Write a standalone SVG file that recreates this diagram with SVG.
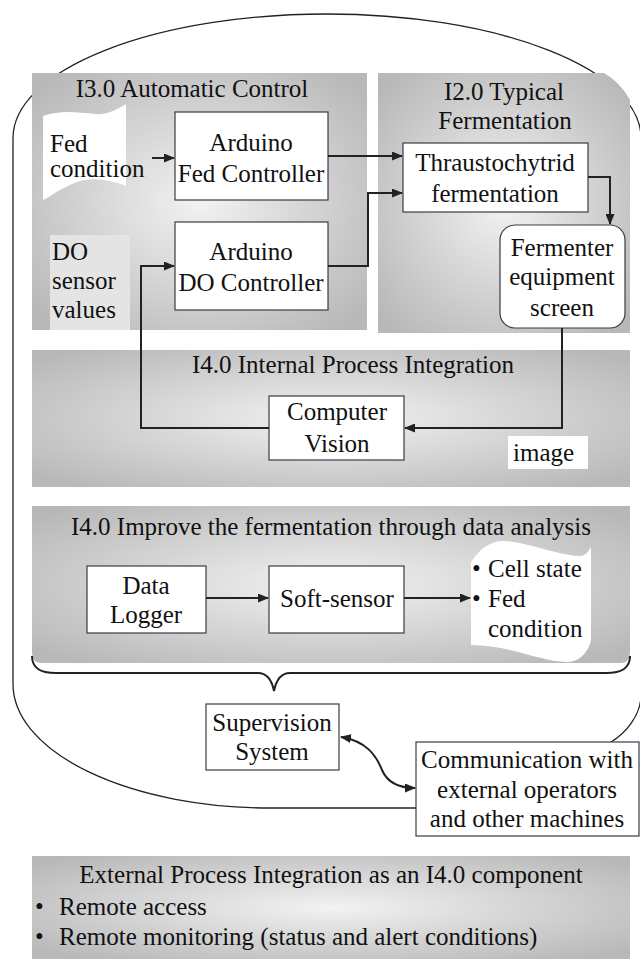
<svg xmlns="http://www.w3.org/2000/svg" width="640" height="962" viewBox="0 0 640 962">
<defs>
<radialGradient id="pg" cx="50%" cy="50%" r="65%">
<stop offset="0" stop-color="#f2f2f2"/>
<stop offset="1" stop-color="#b8b8b8"/>
</radialGradient>
<marker id="ah" markerUnits="userSpaceOnUse" markerWidth="11" markerHeight="9" refX="10" refY="4.5" orient="auto-start-reverse">
<path d="M0,0 L11,4.5 L0,9 Z" fill="#222"/>
</marker>
</defs>
<style>
.t{font-family:"Liberation Serif","Times New Roman",serif;font-size:25px;fill:#111}
.c{text-anchor:middle}
.box{fill:#fff;stroke:#3a3a4a;stroke-width:1.2}
.panel{fill:url(#pg)}
.conn{fill:none;stroke:#222;stroke-width:2}
.outline{fill:none;stroke:#222;stroke-width:1.3}
</style>
<rect width="640" height="962" fill="#fff"/>
<g id="outer">
<path class="outline" d="M416,808 H270 A257,124 0 0 1 13,684 V138 A314,124 0 0 1 641,138 V695 C641,715 626,733 611,742"/>
</g>
<g id="panel-i30">
<rect class="panel" x="32" y="73" width="335" height="257"/>
<text class="t c" x="192" y="97">I3.0 Automatic Control</text>
</g>
<g id="panel-i20">
<path class="panel" d="M378,73 H604 Q620,82 630,100 V333 H378 Z"/>
<text class="t c" x="504" y="100">I2.0 Typical</text>
<text class="t c" x="505" y="129">Fermentation</text>
</g>
<g id="panel-internal">
<rect class="panel" x="32" y="350" width="598" height="137"/>
<text class="t c" x="353" y="373">I4.0 Internal Process Integration</text>
</g>
<g id="panel-improve">
<path class="panel" d="M32,506 H630 V653 Q630,663 620,663 H42 Q32,663 32,653 Z"/>
<text class="t c" x="331" y="535">I4.0 Improve the fermentation through data analysis</text>
</g>
<g id="panel-external">
<rect class="panel" x="32" y="856" width="598" height="103"/>
<text class="t c" x="331" y="883">External Process Integration as an I4.0 component</text>
<text class="t" x="35" y="915">•</text>
<text class="t" x="59" y="915">Remote access</text>
<text class="t" x="35" y="945">•</text>
<text class="t" x="59" y="945">Remote monitoring (status and alert conditions)</text>
</g>
<g id="fed-condition">
<path d="M43,116 C60,110 75,112 95,114 C108,115 116,110 126,104 V186 C112,181 97,177 80,181 C64,186 53,195 43,200 Z" fill="#fff"/>
<text class="t" x="50" y="152">Fed</text>
<text class="t" x="50" y="177">condition</text>
</g>
<g id="do-sensor">
<rect x="50" y="235" width="80" height="95" fill="#e4e4e4"/>
<text class="t" x="52" y="260">DO</text>
<text class="t" x="52" y="289">sensor</text>
<text class="t" x="52" y="318">values</text>
</g>
<g id="arduino-fed">
<rect class="box" x="175" y="112" width="153" height="88"/>
<text class="t c" x="251" y="151">Arduino</text>
<text class="t c" x="251" y="182">Fed Controller</text>
</g>
<g id="arduino-do">
<rect class="box" x="175" y="222" width="153" height="88"/>
<text class="t c" x="251" y="260">Arduino</text>
<text class="t c" x="251" y="291">DO Controller</text>
</g>
<g id="thraustochytrid">
<rect class="box" x="403" y="143" width="185" height="69"/>
<text class="t c" x="495" y="171">Thraustochytrid</text>
<text class="t c" x="495" y="202">fermentation</text>
</g>
<g id="fermenter">
<rect class="box" x="500" y="225" width="125" height="103" rx="15"/>
<text class="t c" x="562" y="256">Fermenter</text>
<text class="t c" x="562" y="285">equipment</text>
<text class="t c" x="562" y="316">screen</text>
</g>
<g id="computer-vision">
<rect class="box" x="269" y="396" width="135" height="64"/>
<text class="t c" x="337" y="420">Computer</text>
<text class="t c" x="337" y="452">Vision</text>
</g>
<g id="image-label">
<rect x="508" y="436" width="80" height="33" fill="#fff"/>
<text class="t" x="513" y="461">image</text>
</g>
<g id="data-logger">
<rect class="box" x="87" y="566" width="119" height="67"/>
<text class="t c" x="146" y="594">Data</text>
<text class="t c" x="146" y="623">Logger</text>
</g>
<g id="soft-sensor">
<rect class="box" x="269" y="566" width="135" height="67"/>
<text class="t c" x="337" y="607">Soft-sensor</text>
</g>
<g id="cell-state">
<path d="M471,562 C480,548 492,540 505,541 C530,543 560,556 580,556 C585,556 588,552 591,547 V640 C589,650 581,662 567,662 C540,662 510,645 471,645 Z" fill="#fff"/>
<text class="t" x="472" y="577">•</text>
<text class="t" x="488" y="577">Cell state</text>
<text class="t" x="472" y="607">•</text>
<text class="t" x="488" y="607">Fed</text>
<text class="t" x="488" y="637">condition</text>
</g>
<g id="brace">
<path class="conn" d="M32,656 C32,668 40,673 56,673 H258 C267,673 272,681 274,691 C276,681 281,673 290,673 H606 C622,673 630,668 630,656"/>
</g>
<g id="supervision">
<rect class="box" x="206" y="704" width="133" height="66"/>
<text class="t c" x="272" y="731">Supervision</text>
<text class="t c" x="272" y="760">System</text>
</g>
<g id="communication">
<rect class="box" x="416" y="742" width="223" height="94"/>
<text class="t c" x="527" y="768">Communication with</text>
<text class="t c" x="527" y="798">external operators</text>
<text class="t c" x="527" y="827">and other machines</text>
</g>
<g id="connectors">
<path class="conn" d="M152,158 H174" marker-end="url(#ah)"/>
<path class="conn" d="M328,156 H402" marker-end="url(#ah)"/>
<path class="conn" d="M328,266 H368 V193 H402" marker-end="url(#ah)"/>
<path class="conn" d="M269,428 H141 V266 H174" marker-end="url(#ah)"/>
<path class="conn" d="M588,177 H610 V224" marker-end="url(#ah)"/>
<path class="conn" d="M562,328 V428 H405" marker-end="url(#ah)"/>
<path class="conn" d="M206,598 H268" marker-end="url(#ah)"/>
<path class="conn" d="M404,598 H470" marker-end="url(#ah)"/>
<path class="conn" d="M341,737 C366,741 376,755 382,770 C388,784 400,788 415,788" marker-start="url(#ah)" marker-end="url(#ah)"/>
</g>
</svg>
